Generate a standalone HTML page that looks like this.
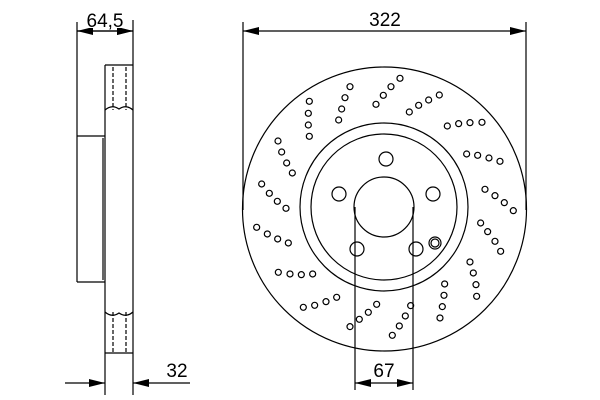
<!DOCTYPE html>
<html><head><style>
html,body{margin:0;padding:0;background:#fff;}
svg{display:block;}
text{font-family:"Liberation Sans",sans-serif;font-size:19px;fill:#000;}
</style></head><body>
<svg width="600" height="400" viewBox="0 0 600 400" xmlns="http://www.w3.org/2000/svg">
<defs>
<marker id="a" markerWidth="16" markerHeight="8" refX="16" refY="4" orient="auto" markerUnits="userSpaceOnUse"><path d="M0,0 L16,4 L0,8 Z" fill="#000"/></marker>
</defs>
<g stroke="#000" stroke-width="1.2" fill="none">
<!-- side view -->
<line x1="77" y1="22" x2="77" y2="282"/>
<line x1="133" y1="20" x2="133" y2="395"/>
<line x1="105" y1="65" x2="105" y2="395"/>
<line x1="105" y1="65" x2="133" y2="65"/>
<path d="M77,136 H105 M77,282 H105 M103,138 V280"/>
<path d="M105,110 Q112,104 119,109 Q126,104 133,110"/>
<path d="M105,312 Q112,318 119,313 Q126,318 133,312"/>
<line x1="105" y1="353" x2="133" y2="353"/>
<path d="M113,67 V110 M126,67 V110 M113,312 V352 M126,312 V352" stroke-dasharray="4,2"/>
<!-- dims -->
<line x1="77" y1="31" x2="133" y2="31" marker-end="url(#a)" marker-start="url(#a)" style="marker-start:none"/>
<line x1="105" y1="31" x2="77" y2="31" marker-end="url(#a)"/>
<line x1="105" y1="31" x2="133" y2="31" marker-end="url(#a)"/>
<line x1="65" y1="383" x2="105" y2="383" marker-end="url(#a)"/>
<line x1="190" y1="383" x2="133" y2="383" marker-end="url(#a)"/>
<line x1="243" y1="22" x2="243" y2="210"/>
<line x1="526" y1="22" x2="526" y2="210"/>
<line x1="385" y1="31" x2="243" y2="31" marker-end="url(#a)"/>
<line x1="385" y1="31" x2="526" y2="31" marker-end="url(#a)"/>
<line x1="355" y1="207" x2="355" y2="390"/>
<line x1="413" y1="207" x2="413" y2="390"/>
<line x1="384" y1="383" x2="355" y2="383" marker-end="url(#a)"/>
<line x1="384" y1="383" x2="413" y2="383" marker-end="url(#a)"/>
<!-- disc -->
<circle cx="384.5" cy="209" r="142"/>
<circle cx="384" cy="207" r="84"/>
<circle cx="384" cy="207" r="73"/>
<circle cx="384" cy="207" r="30"/>
<circle cx="386" cy="159" r="7"/>
<circle cx="339" cy="194" r="7"/>
<circle cx="433" cy="194" r="7"/>
<circle cx="357" cy="249" r="7"/>
<circle cx="416" cy="249" r="7"/>
<circle cx="435" cy="243" r="6"/>
<circle cx="435" cy="243" r="4"/>
<g transform="translate(240,60) scale(0.3333)" stroke-width="3.6">
<g id="d">
<circle cx="208" cy="124" r="9"/><circle cx="205" cy="160" r="9"/><circle cx="205" cy="195" r="9"/><circle cx="208" cy="229" r="9"/>
<circle cx="330" cy="80" r="9"/><circle cx="315" cy="113" r="9"/><circle cx="305" cy="147" r="9"/><circle cx="296" cy="180" r="9"/>
<circle cx="480" cy="55" r="9"/><circle cx="453" cy="80" r="9"/><circle cx="430" cy="106" r="9"/><circle cx="408" cy="133" r="9"/>
<circle cx="598" cy="105" r="9"/><circle cx="566" cy="120" r="9"/><circle cx="536" cy="136" r="9"/><circle cx="508" cy="156" r="9"/>
<circle cx="726" cy="187" r="9"/><circle cx="690" cy="188" r="9"/><circle cx="656" cy="191" r="9"/><circle cx="622" cy="198" r="9"/>
<circle cx="780" cy="304" r="9"/><circle cx="747" cy="294" r="9"/><circle cx="713" cy="286" r="9"/><circle cx="680" cy="282" r="9"/>
<circle cx="820" cy="452" r="9"/><circle cx="793" cy="428" r="9"/><circle cx="765" cy="407" r="9"/><circle cx="735" cy="388" r="9"/>
<circle cx="782" cy="574" r="9"/><circle cx="765" cy="544" r="9"/><circle cx="743" cy="515" r="9"/><circle cx="722" cy="489" r="9"/>
<circle cx="710" cy="709" r="9"/><circle cx="708" cy="674" r="9"/><circle cx="700" cy="639" r="9"/><circle cx="690" cy="606" r="9"/>
<circle cx="600" cy="774" r="9"/><circle cx="607" cy="740" r="9"/><circle cx="612" cy="706" r="9"/><circle cx="614" cy="672" r="9"/>
<circle cx="457" cy="826" r="9"/><circle cx="478" cy="798" r="9"/><circle cx="496" cy="768" r="9"/><circle cx="512" cy="737" r="9"/>
<circle cx="330" cy="800" r="9"/><circle cx="358" cy="778" r="9"/><circle cx="385" cy="757" r="9"/><circle cx="410" cy="733" r="9"/>
<circle cx="190" cy="742" r="9"/><circle cx="224" cy="736" r="9"/><circle cx="258" cy="725" r="9"/><circle cx="290" cy="712" r="9"/>
<circle cx="115" cy="637" r="9"/><circle cx="150" cy="642" r="9"/><circle cx="184" cy="644" r="9"/><circle cx="218" cy="642" r="9"/>
<circle cx="50" cy="502" r="9"/><circle cx="82" cy="522" r="9"/><circle cx="113" cy="537" r="9"/><circle cx="145" cy="549" r="9"/>
<circle cx="65" cy="372" r="9"/><circle cx="88" cy="400" r="9"/><circle cx="112" cy="424" r="9"/><circle cx="138" cy="445" r="9"/>
<circle cx="114" cy="243" r="9"/><circle cx="125" cy="276" r="9"/><circle cx="140" cy="309" r="9"/><circle cx="157" cy="339" r="9"/>
</g>
</g>
</g>
<rect x="78" y="14" width="54" height="14" fill="#fff"/>
<text x="105" y="27" text-anchor="middle">64,5</text>
<text x="385" y="26" text-anchor="middle">322</text>
<text x="177" y="377" text-anchor="middle">32</text>
<text x="384" y="377" text-anchor="middle">67</text>
</svg>
</body></html>
